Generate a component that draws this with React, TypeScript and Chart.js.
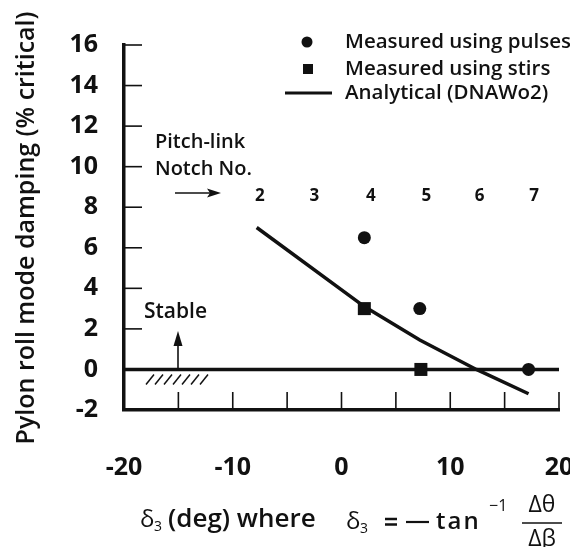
import React, { useEffect, useRef } from 'react';
import { Chart, registerables } from 'chart.js';

Chart.register(...registerables);

// ---- Data ----
const pulsesX = [2.1, 7.2, 17.2];
const pulsesY = [6.5, 3.0, 0];
const stirsX = [2.1, 7.3];
const stirsY = [3.0, 0];
const analyticalX = [-7.8, 2.1, 7.2, 12.4, 17.2];
const analyticalY = [7.0, 3.1, 1.45, 0, -1.2];
const notchLabels = ['2', '3', '4', '5', '6', '7'];
const notchX = [-7.5, -2.5, 2.7, 7.8, 12.7, 17.7];
const notchY = 8.55;
const xTickValues = [-20, -10, 0, 10, 20];
const yTickValues = [-2, 0, 2, 4, 6, 8, 10, 12, 14, 16];
const xMarkValues = [-15, -10, -5, 0, 5, 10, 15, 20];
const legendLabels = ['Measured using pulses', 'Measured using stirs', 'Analytical (DNAWo2)'];
const yTitle = 'Pylon roll mode damping (% critical)';

const FONT = "'Open Sans', 'Noto Sans', sans-serif";
const INK = '#111';

const W = 562;
const H = 547;

const overlay = {
  id: 'overlay',
  beforeDatasetsDraw(chart: any) {
    const { ctx, scales } = chart;
    const xs = scales.x;
    const ys = scales.y;
    ctx.save();
    ctx.strokeStyle = INK;
    // zero line
    ctx.lineWidth = 3.5;
    ctx.beginPath();
    ctx.moveTo(xs.getPixelForValue(-20), ys.getPixelForValue(0));
    ctx.lineTo(xs.getPixelForValue(20), ys.getPixelForValue(0));
    ctx.stroke();
    // inward tick marks
    ctx.lineWidth = 1.6;
    const left = xs.getPixelForValue(-20);
    yTickValues.forEach((v) => {
      if (v === -2) return;
      const y = ys.getPixelForValue(v);
      ctx.beginPath();
      ctx.moveTo(left, y);
      ctx.lineTo(left + 18, y);
      ctx.stroke();
    });
    const bottom = ys.getPixelForValue(-2);
    xMarkValues.forEach((v) => {
      const x = xs.getPixelForValue(v);
      ctx.beginPath();
      ctx.moveTo(x, bottom);
      ctx.lineTo(x, bottom - 18);
      ctx.stroke();
    });
    ctx.restore();
  },
  afterDraw(chart: any) {
    const { ctx, scales } = chart;
    const xs = scales.x;
    const ys = scales.y;
    ctx.save();
    ctx.fillStyle = INK;
    ctx.strokeStyle = INK;

    // legend
    ctx.font = `600 20.5px ${FONT}`;
    ctx.textBaseline = 'middle';
    ctx.textAlign = 'left';
    const legY = [34, 61, 85];
    ctx.beginPath();
    ctx.arc(299, legY[0], 5.5, 0, Math.PI * 2);
    ctx.fill();
    ctx.fillRect(295, legY[1] - 5, 10, 10);
    ctx.lineWidth = 3;
    ctx.beginPath();
    ctx.moveTo(277, legY[2]);
    ctx.lineTo(324, legY[2]);
    ctx.stroke();
    legendLabels.forEach((t, i) => ctx.fillText(t, 337, legY[i]));

    // Pitch-link notch text
    ctx.font = `600 20px ${FONT}`;
    ctx.fillText('Pitch-link', 147, 134);
    ctx.fillText('Notch No.', 147, 161);
    // arrow
    ctx.lineWidth = 1.6;
    ctx.beginPath();
    ctx.moveTo(167, 185);
    ctx.lineTo(206, 185);
    ctx.stroke();
    ctx.beginPath();
    ctx.moveTo(213, 185);
    ctx.lineTo(199, 180.5);
    ctx.lineTo(202, 185);
    ctx.lineTo(199, 189.5);
    ctx.closePath();
    ctx.fill();

    // notch numbers
    ctx.font = `bold 17px ${FONT}`;
    ctx.textAlign = 'center';
    notchLabels.forEach((t, i) => {
      ctx.fillText(t, xs.getPixelForValue(notchX[i]), ys.getPixelForValue(notchY));
    });

    // Stable
    ctx.font = `600 21px ${FONT}`;
    ctx.textAlign = 'left';
    ctx.fillText('Stable', 136, 304);
    const zeroY = ys.getPixelForValue(0);
    ctx.lineWidth = 1.6;
    ctx.beginPath();
    ctx.moveTo(170, zeroY);
    ctx.lineTo(170, 334);
    ctx.stroke();
    ctx.beginPath();
    ctx.moveTo(170, 323);
    ctx.lineTo(165.5, 338);
    ctx.lineTo(174.5, 338);
    ctx.closePath();
    ctx.fill();
    // hatching
    ctx.lineWidth = 1.5;
    for (let i = 0; i < 7; i++) {
      const x0 = 138 + i * 9;
      ctx.beginPath();
      ctx.moveTo(x0, zeroY + 15);
      ctx.lineTo(x0 + 8, zeroY + 5);
      ctx.stroke();
    }

    // y title
    ctx.save();
    ctx.translate(19, 220);
    ctx.rotate(-Math.PI / 2);
    ctx.font = `600 25px ${FONT}`;
    ctx.textAlign = 'center';
    ctx.textBaseline = 'middle';
    ctx.fillText(yTitle, 0, 0);
    ctx.restore();

    // x title
    const base = 519;
    const base2 = 521;
    ctx.textAlign = 'left';
    ctx.textBaseline = 'alphabetic';
    ctx.font = `500 24px ${FONT}`;
    ctx.fillText('δ', 132, base);
    ctx.font = `500 14px ${FONT}`;
    ctx.fillText('3', 146, base + 4);
    ctx.font = `600 26px ${FONT}`;
    ctx.fillText('(deg) where', 160, base);
    ctx.font = `500 24px ${FONT}`;
    ctx.fillText('δ', 338, base2);
    ctx.font = `500 14px ${FONT}`;
    ctx.fillText('3', 352, base2 + 4);
    ctx.lineWidth = 2.4;
    ctx.beginPath();
    ctx.moveTo(377, base2 - 10);
    ctx.lineTo(389, base2 - 10);
    ctx.moveTo(377, base2 - 4.5);
    ctx.lineTo(389, base2 - 4.5);
    ctx.stroke();
    ctx.lineWidth = 2.2;
    ctx.beginPath();
    ctx.moveTo(398, base2 - 7);
    ctx.lineTo(421, base2 - 7);
    ctx.stroke();
    (ctx as any).letterSpacing = '2px';
    ctx.font = `600 24px ${FONT}`;
    ctx.fillText('tan', 428, base2);
    (ctx as any).letterSpacing = '0px';
    ctx.font = `500 16px ${FONT}`;
    ctx.fillText('−1', 481, 503);
    ctx.font = `500 23px ${FONT}`;
    ctx.textAlign = 'center';
    ctx.fillText('Δθ', 534, 504);
    ctx.fillText('Δβ', 534, 538);
    ctx.lineWidth = 1.5;
    ctx.beginPath();
    ctx.moveTo(514, 515);
    ctx.lineTo(554, 515);
    ctx.stroke();

    ctx.restore();
  },
};

export default function App() {
  const ref = useRef<HTMLCanvasElement | null>(null);
  useEffect(() => {
    if (!ref.current) return;
    const chart = new Chart(ref.current, {
      type: 'scatter',
      data: {
        datasets: [
          {
            label: legendLabels[2],
            data: analyticalX.map((x, i) => ({ x, y: analyticalY[i] })),
            showLine: true,
            borderColor: INK,
            borderWidth: 3.5,
            pointRadius: 0,
            tension: 0,
            order: 3,
          },
          {
            label: legendLabels[0],
            data: pulsesX.map((x, i) => ({ x, y: pulsesY[i] })),
            pointStyle: 'circle',
            pointRadius: 6.5,
            backgroundColor: INK,
            borderColor: INK,
            borderWidth: 0,
            order: 1,
          },
          {
            label: legendLabels[1],
            data: stirsX.map((x, i) => ({ x, y: stirsY[i] })),
            pointStyle: 'rect',
            pointRadius: 9.2,
            backgroundColor: INK,
            borderColor: INK,
            borderWidth: 0,
            order: 2,
          },
        ],
      },
      options: {
        responsive: false,
        animation: false,
        events: [],
        layout: { padding: { left: 63, right: 11, top: 37, bottom: 0 } },
        plugins: { legend: { display: false }, tooltip: { enabled: false } },
        scales: {
          x: {
            type: 'linear',
            min: -20,
            max: 20,
            afterBuildTicks: (s: any) => {
              s.ticks = xTickValues.map((v) => ({ value: v }));
            },
            afterFit: (s: any) => {
              s.height = H - 402;
              s.paddingLeft = 0;
              s.paddingRight = 0;
            },
            ticks: {
              font: { family: FONT, size: 25, weight: 'bold' },
              color: INK,
              padding: 43,
              maxRotation: 0,
            },
            grid: { display: true, drawOnChartArea: false, drawTicks: false, color: INK },
            border: { display: true, width: 3.5, color: INK },
          },
          y: {
            type: 'linear',
            min: -2,
            max: 16,
            afterBuildTicks: (s: any) => {
              s.ticks = yTickValues.map((v) => ({ value: v }));
            },
            afterFit: (s: any) => {
              s.width = 53;
              s.paddingTop = 0;
              s.paddingBottom = 0;
            },
            ticks: {
              font: { family: FONT, size: 25, weight: 'bold' },
              color: INK,
              padding: 26,
            },
            grid: { display: true, drawOnChartArea: false, drawTicks: false, color: INK },
            border: { display: true, width: 3.5, color: INK },
          },
        },
      },
      plugins: [overlay],
    } as any);
    return () => chart.destroy();
  }, []);
  return (
    <div style={{ width: W, height: H, marginBottom: -8 }}>
      <canvas ref={ref} width={W} height={H} style={{ display: 'block' }} />
    </div>
  );
}
